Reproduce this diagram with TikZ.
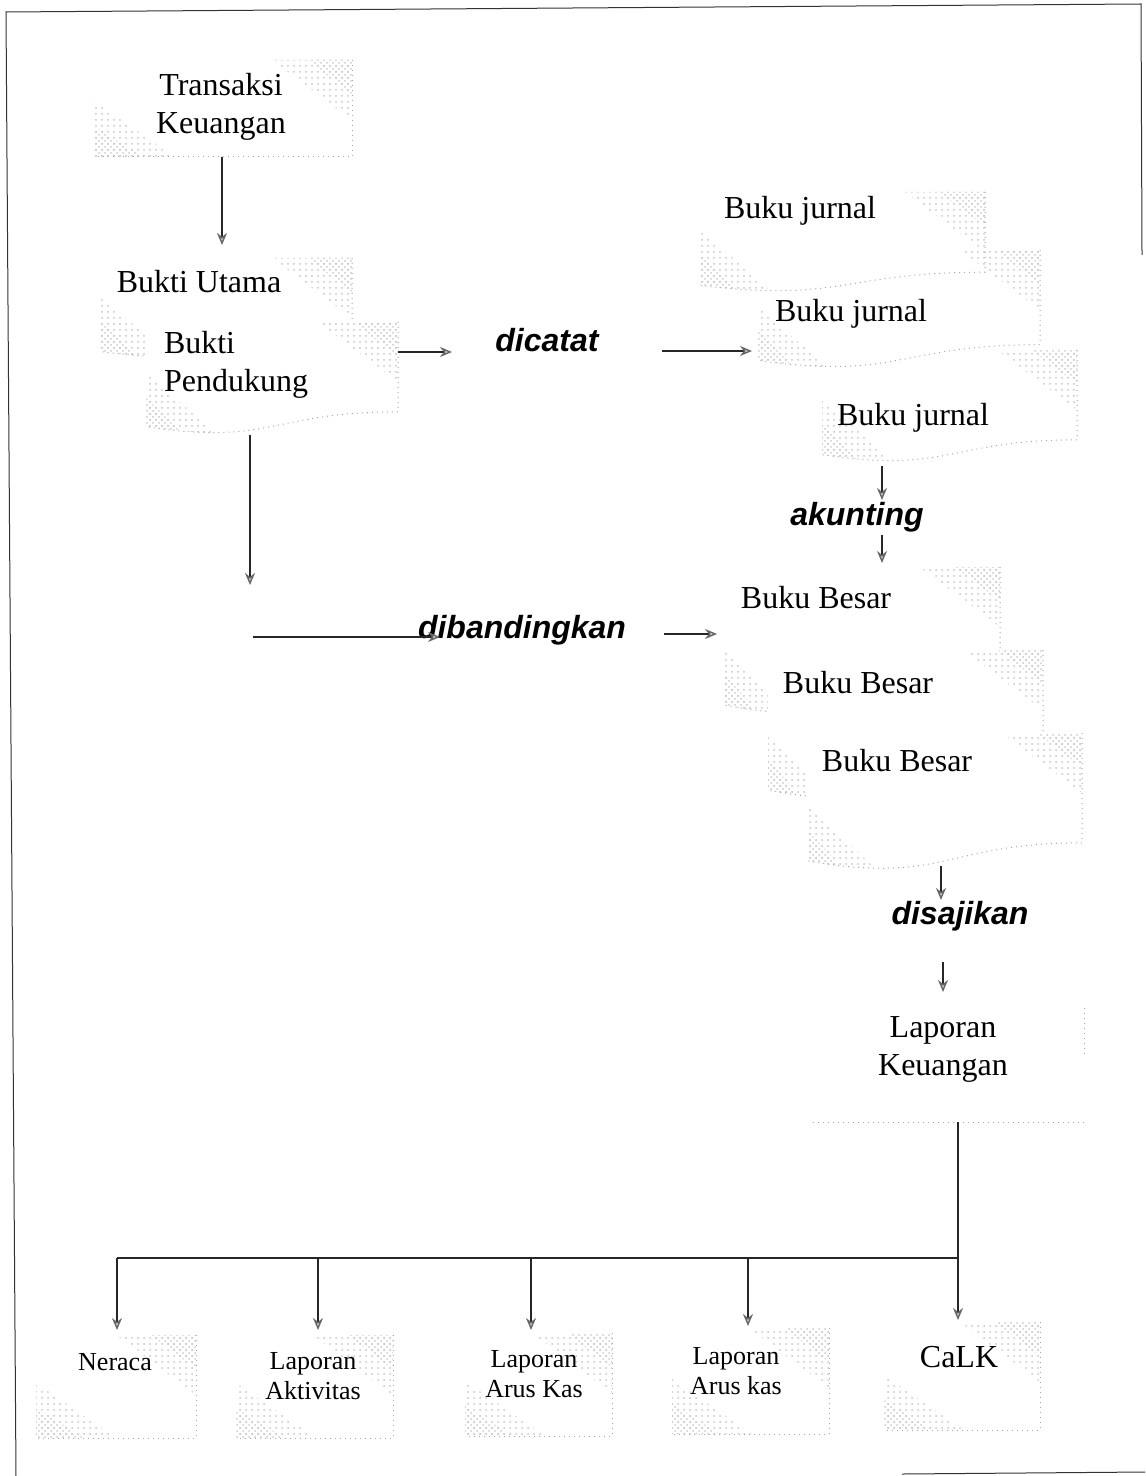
\documentclass[tikz,border=0pt]{standalone}
\usepackage{fontspec}
\setmainfont{Liberation Serif}
\setsansfont{Liberation Sans}
\usepackage{tikz}
\usetikzlibrary{arrows.meta}
\usetikzlibrary{patterns}
\newcommand\drawdoc[5]{%
	\pgfmathsetmacro\docR{#3+0.802*#5}
	\pgfmathsetmacro\docL{#3+0.934*#5}
	\pgfmathsetmacro\docC{#3+1.1075*#5}
	\pgfmathsetmacro\docM{(#2+#4)/2}
	\begin{scope}
	\path[#1] (#2,#3) -- (#4,#3) -- (#4,\docR) .. controls (\docM,\docR) and (\docM,\docC) .. (#2,\docL) -- cycle;
	\clip (#2,#3) -- (#4,#3) -- (#4,\docR) .. controls (\docM,\docR) and (\docM,\docC) .. (#2,\docL) -- cycle;
	\fill[faintdots] (#4-80,#3) -- (#4,#3) -- (#4,#3+60) -- cycle;
	\fill[stipple] (#4-45,#3) -- (#4,#3) -- (#4,#3+34) -- cycle;
	\fill[faintdots] (#2,\docL-55) -- (#2,\docC) -- (#2+85,\docC) -- cycle;
	\fill[stipple] (#2,\docL-30) -- (#2,\docC) -- (#2+50,\docC) -- cycle;
	\end{scope}
	\draw[docline] (#4,#3) -- (#4,\docR) .. controls (\docM,\docR) and (\docM,\docC) .. (#2,\docL);
}
\newcommand\drawbox[4]{%
	\fill[faintdots] (#3-80,#2) -- (#3,#2) -- (#3,#2+60) -- cycle;
	\fill[stipple] (#3-45,#2) -- (#3,#2) -- (#3,#2+34) -- cycle;
	\fill[faintdots] (#1,#4-55) -- (#1,#4) -- (#1+80,#4) -- cycle;
	\fill[stipple] (#1,#4-30) -- (#1,#4) -- (#1+48,#4) -- cycle;
	\draw[docline] (#3,#2) -- (#3,#4) -- (#1,#4);
}

\begin{document}
\begin{tikzpicture}[x=0.5pt,y=-0.5pt,
	txt/.style={inner sep=0pt,align=center,font=\fontsize{16}{19}\selectfont},
	small/.style={inner sep=0pt,align=center,font=\fontsize{13}{15}\selectfont},
	verb/.style={inner sep=0pt,font=\fontsize{16}{19}\selectfont\sffamily\bfseries\itshape},
	stipple/.style={pattern=crosshatch dots,pattern color=gray!40},
	faintdots/.style={pattern=dots,pattern color=gray!45},
	docline/.style={gray!70,dotted,line width=0.5pt},
	line/.style={black!85,line width=0.7pt},
	arr/.style={line,-{Stealth[length=6pt,width=5pt,color=gray!80!black,fill=gray!35]}}]
\useasboundingbox (0,0) rectangle (1145,1476);
\draw[black!80,line width=0.5pt] (16,1476) -- (6,12) -- (1141,4) -- (1142,255);
\draw[black!80,line width=0.5pt] (902,1474) -- (1145,1472);

\drawbox{95}{60}{352}{157}
\drawdoc{fill=white}{100}{258}{352}{100}
\drawdoc{fill=white}{145}{322}{398}{112}
\drawdoc{}{700}{192}{985}{100}
\drawdoc{}{757}{250}{1040}{118}
\drawdoc{}{822}{350}{1077}{112}
\drawdoc{fill=white}{725}{567}{1000}{148}
\drawdoc{fill=white}{768}{650}{1043}{150}
\drawdoc{fill=white}{808}{733}{1082}{137}
\draw[docline] (1084,1008) -- (1084,1058);
\draw[docline] (813,1122) -- (1084,1122);
\drawbox{36}{1335}{196}{1438}
\drawbox{236}{1335}{393}{1438}
\drawbox{465}{1333}{612}{1436}
\drawbox{672}{1328}{829}{1434}
\drawbox{884}{1322}{1040}{1430}

\node[txt] (trans) at (221,107) {Transaksi\\Keuangan};
\node[txt] (butama) at (199,282) {Bukti Utama};
\node[txt,align=left] (bpend) at (236,365) {Bukti\\Pendukung};
\node[verb] (dicatat) at (547,340) {dicatat};
\node[txt] (jur1) at (800,211) {Buku jurnal};
\node[txt] (jur2) at (851,314) {Buku jurnal};
\node[txt] (jur3) at (913,418) {Buku jurnal};
\node[verb] (akunting) at (857,517) {akunting};
\node[txt] (bb1) at (816,598) {Buku Besar};
\node[txt] (bb2) at (858,683) {Buku Besar};
\node[txt] (bb3) at (897,761) {Buku Besar};
\node[verb] (dibanding) at (522,630) {dibandingkan};
\node[verb] (disajikan) at (960,916) {disajikan};
\node[txt] (lapkeu) at (943,1049) {Laporan\\Keuangan};
\node[small] (neraca) at (115,1362) {Neraca};
\node[small] (aktiv) at (313,1376) {Laporan\\Aktivitas};
\node[small] (arus1) at (534,1374) {Laporan\\Arus Kas};
\node[small] (arus2) at (736,1371) {Laporan\\Arus kas};
\node[txt] (calk) at (959,1357) {CaLK};

\coordinate (transbot) at (222,157);
\coordinate (utamatop) at (222,245);
\coordinate (pendright) at (398,352);
\coordinate (catat1) at (452,352);
\coordinate (catat2) at (662,351);
\coordinate (jurleft) at (752,351);
\coordinate (pendbot) at (250,435);
\coordinate (banding0) at (250,585);
\coordinate (banding1) at (253,637);
\coordinate (banding2) at (440,637);
\coordinate (banding3) at (664,634);
\coordinate (besarleft) at (717,634);
\coordinate (jurbot) at (882,466);
\coordinate (akun1) at (882,500);
\coordinate (akun2) at (882,535);
\coordinate (besartop) at (882,563);
\coordinate (besarbot) at (941,866);
\coordinate (saji1) at (941,900);
\coordinate (saji2) at (943,962);
\coordinate (lapkeutop) at (943,992);
\coordinate (lapkeubot) at (958,1122);
\coordinate (tree0) at (958,1258);
\coordinate (tree1) at (117,1258);
\coordinate (tree2) at (318,1258);
\coordinate (tree3) at (531,1258);
\coordinate (tree4) at (748,1258);
\coordinate (neracatop) at (117,1330);
\coordinate (aktivtop) at (318,1330);
\coordinate (arus1top) at (531,1330);
\coordinate (arus2top) at (748,1326);
\coordinate (calktop) at (958,1320);

\draw[arr] (transbot) -- (utamatop);
\draw[arr] (pendright) -- (catat1);
\draw[arr] (catat2) -- (jurleft);
\draw[arr] (pendbot) -- (banding0);
\draw[arr] (banding1) -- (banding2);
\draw[arr] (banding3) -- (besarleft);
\draw[arr] (jurbot) -- (akun1);
\draw[arr] (akun2) -- (besartop);
\draw[arr] (besarbot) -- (saji1);
\draw[arr] (saji2) -- (lapkeutop);
\draw[line] (lapkeubot) -- (tree0) -- (tree1);
\draw[arr] (tree1) -- (neracatop);
\draw[arr] (tree2) -- (aktivtop);
\draw[arr] (tree3) -- (arus1top);
\draw[arr] (tree4) -- (arus2top);
\draw[arr] (tree0) -- (calktop);
\end{tikzpicture}
\end{document}
